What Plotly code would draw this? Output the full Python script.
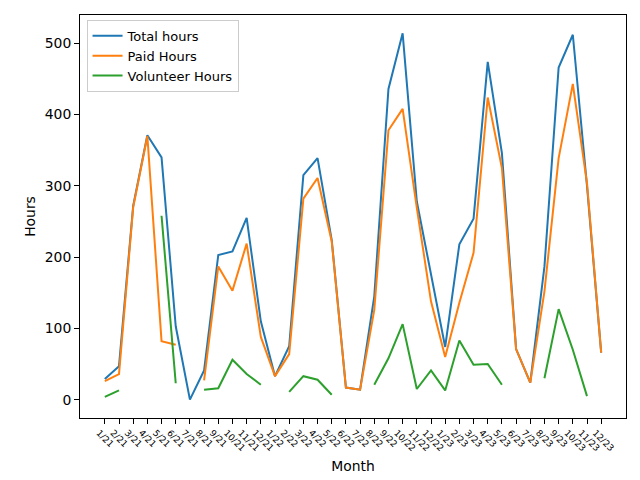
import plotly.graph_objects as go

months = ["1/21", "2/21", "3/21", "4/21", "5/21", "6/21", "7/21", "8/21", "9/21", "10/21", "11/21", "12/21",
          "1/22", "2/22", "3/22", "4/22", "5/22", "6/22", "7/22", "8/22", "9/22", "10/22", "11/22", "12/22",
          "1/23", "2/23", "3/23", "4/23", "5/23", "6/23", "7/23", "8/23", "9/23", "10/23", "11/23", "12/23"]

total_hours = [29, 47, 272, 371, 340, 103, 0, 41, 203, 208, 255, 110,
               33, 75, 315, 339, 224, 17, 14, 145, 436, 514, 278, 178,
               74, 218, 254, 474, 346, 71, 24, 187, 466, 512, 300, 66]

paid_hours = [26, 36, 270, 370, 82, 77, None, 27, 187, 153, 219, 88,
              33, 64, 282, 311, 222, 17, 14, 126, 378, 408, 269, 138,
              60, 136, 206, 424, 325, 71, 24, 152, 339, 443, 304, 66]

volunteer_hours = [4, 13, None, None, 258, 23, None, 14, 16, 56, 36, 21,
                   None, 11, 33, 28, 7, None, None, 21, 58, 106, 15, 41,
                   13, 83, 49, 50, 21, None, None, 30, 127, 70, 5, None]

series = [("Total hours", total_hours, "#1f77b4"),
          ("Paid Hours", paid_hours, "#ff7f0e"),
          ("Volunteer Hours", volunteer_hours, "#2ca02c")]

idx = list(range(len(months)))
fig = go.Figure()
for name, vals, color in series:
    fig.add_trace(go.Scatter(x=idx, y=vals, name=name, mode="lines",
                             connectgaps=False, line=dict(color=color, width=2)))

ymax = max(total_hours)
n = len(months) - 1

axis_style = dict(showline=True, mirror=True, linecolor="black", linewidth=1,
                  ticks="outside", ticklen=5, tickcolor="black", showgrid=False,
                  zeroline=False, automargin=False)

fig.update_layout(
    width=640, height=480,
    margin=dict(l=80, r=14, t=15, b=62),
    paper_bgcolor="white", plot_bgcolor="white",
    font=dict(family="DejaVu Sans", size=13.9, color="black"),
    showlegend=True,
    legend=dict(x=0.012, y=0.988, xanchor="left", yanchor="top",
                bgcolor="rgba(255,255,255,0.8)", bordercolor="#cccccc", borderwidth=1,
                font=dict(size=13), tracegroupgap=0),
    xaxis=dict(axis_style, range=[-0.05 * n, n * 1.05], tickmode="array",
               tickvals=idx, ticktext=months, tickangle=45, ticklabelshift=-6,
               tickfont=dict(size=9),
               title=dict(text="Month", font=dict(size=13.9), standoff=9)),
    yaxis=dict(axis_style, range=[-0.05 * ymax, ymax * 1.05], tickvals=[0, 100, 200, 300, 400, 500],
               tickfont=dict(size=13.9),
               title=dict(text="Hours", font=dict(size=13.9), standoff=5)),
)

# the page body has a default 8px margin; drop it so the figure sits at the corner
fig.write_html("out.html", config={"displayModeBar": False},
               post_script="document.body.style.margin = '0';")
